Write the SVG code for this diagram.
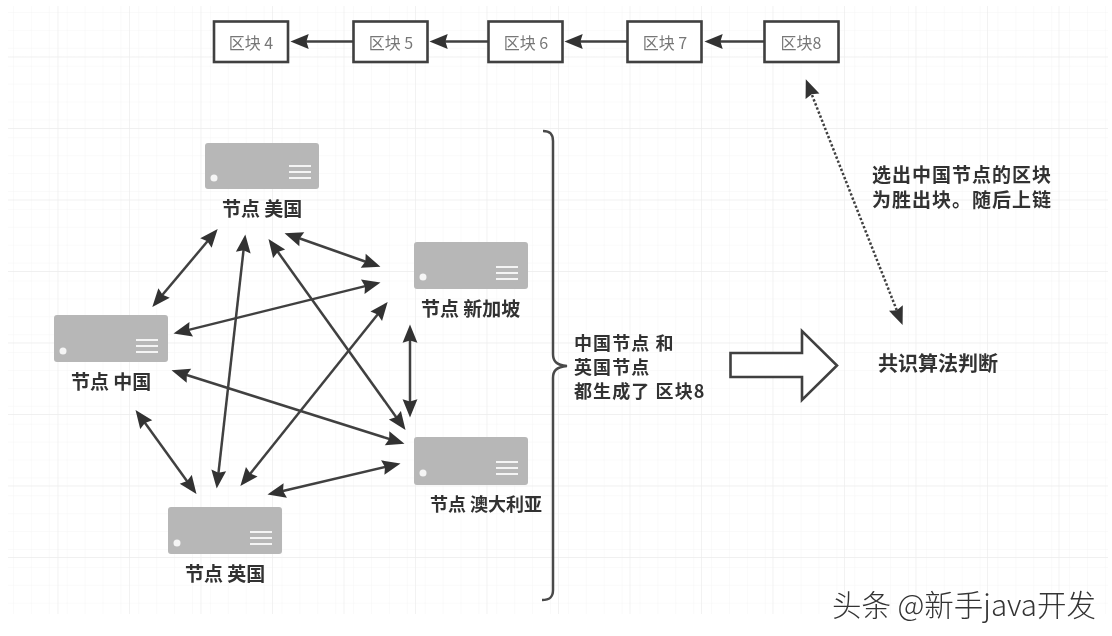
<svg xmlns="http://www.w3.org/2000/svg" width="1112" height="636" viewBox="0 0 1112 636">
<style>
text{font-family:"Noto Sans CJK SC","Noto Sans",sans-serif;dominant-baseline:central}
.blk{fill:#fff;stroke:#3f3f3f;stroke-width:2.6}
.blkt{font-size:16px;fill:#777;text-anchor:middle}
.lab{font-size:19px;font-weight:700;fill:#333}
.sum{font-size:18px;font-weight:700;fill:#333;letter-spacing:1.1px}
.res{font-size:19px;font-weight:700;fill:#333;letter-spacing:1px}
.srv{fill:#b7b7b7}
.lit{stroke:#f4f4f4;stroke-width:2}
.led{fill:#f5f5f5}
.con{stroke:#414141;stroke-width:2.5;fill:none}
.two{marker-start:url(#head);marker-end:url(#head)}
</style>
<defs>
<pattern id="minor" width="17.9" height="17.9" patternUnits="userSpaceOnUse" x="13" y="12"><path d="M0 0V17.9M0 0H17.9" fill="none" stroke="#f5f5f5" stroke-width="1"/></pattern>
<pattern id="major" width="71.5" height="71.5" patternUnits="userSpaceOnUse" x="57.5" y="56.5"><path d="M0 0V71.5M0 0H71.5" fill="none" stroke="#ececec" stroke-width="1.3"/></pattern>
<marker id="head" markerUnits="userSpaceOnUse" markerWidth="19" markerHeight="16" viewBox="0 0 16 14" refX="5" refY="7" orient="auto-start-reverse"><path d="M0 .5L16 7L0 13.5L2 7Z" fill="#333"/></marker>
<filter id="soft" x="-2%" y="-2%" width="104%" height="104%"><feGaussianBlur stdDeviation="0.65"/></filter>
</defs>
<rect width="1112" height="636" fill="#fff"/>
<rect x="8" y="6" width="1100" height="608" fill="url(#minor)"/>
<rect x="8" y="6" width="1100" height="608" fill="url(#major)"/>
<g filter="url(#soft)">
<g id="connectors">
<path class="con" d="M353 41.5H303" marker-end="url(#head)"/>
<path class="con" d="M488 41.5H442" marker-end="url(#head)"/>
<path class="con" d="M627 41.5H577" marker-end="url(#head)"/>
<path class="con" d="M764 41.5H717" marker-end="url(#head)"/>
<path class="con two" d="M209.6 238.7L160.4 297.3"/>
<path class="con two" d="M243.9 246.9L218.1 476.1"/>
<path class="con two" d="M275.8 249.1L398.2 419.9"/>
<path class="con two" d="M296.4 237.3L368.6 262.7"/>
<path class="con two" d="M368.3 285.4L185.7 330.6"/>
<path class="con two" d="M379.8 311.8L248.2 476.2"/>
<path class="con two" d="M410 337V405"/>
<path class="con two" d="M183.5 374L392.5 440"/>
<path class="con two" d="M142.9 420.1L189.1 483.9"/>
<path class="con two" d="M279.7 491.7L388.3 466.3"/>
<path class="con two" d="M810.4 91L898 313.4" stroke-dasharray="2.4 2"/>
</g>
<g id="block4"><rect class="blk" x="214" y="21.5" width="74" height="40.5"/><text class="blkt" x="251" y="42">区块 4</text></g>
<g id="block5"><rect class="blk" x="353.5" y="21.5" width="74" height="40.5"/><text class="blkt" x="391" y="42">区块 5</text></g>
<g id="block6"><rect class="blk" x="488.5" y="21.5" width="74" height="40.5"/><text class="blkt" x="526" y="42">区块 6</text></g>
<g id="block7"><rect class="blk" x="627.5" y="21.5" width="74" height="40.5"/><text class="blkt" x="665" y="42">区块 7</text></g>
<g id="block8"><rect class="blk" x="764.5" y="21.5" width="74" height="40.5"/><text class="blkt" x="801" y="42">区块8</text></g>
<g id="node-us" transform="translate(205 143)"><rect class="srv" width="114" height="46" rx="3"/><circle class="led" cx="9" cy="35" r="3.5"/><path class="lit" d="M84 23H106M84 29H106M84 35H106"/><text class="lab" x="17" y="64">节点 美国</text></g>
<g id="node-sg" transform="translate(414 242)"><rect class="srv" width="114" height="47" rx="3"/><circle class="led" cx="9" cy="35" r="3.5"/><path class="lit" d="M82 25H104M82 31H104M82 37H104"/><text class="lab" x="7" y="65">节点 新加坡</text></g>
<g id="node-cn" transform="translate(54 315)"><rect class="srv" width="114" height="47" rx="3"/><circle class="led" cx="9" cy="36" r="3.5"/><path class="lit" d="M82 25H104M82 31H104M82 37H104"/><text class="lab" x="17" y="65">节点 中国</text></g>
<g id="node-uk" transform="translate(168 507)"><rect class="srv" width="114" height="47" rx="3"/><circle class="led" cx="9" cy="36" r="3.5"/><path class="lit" d="M82 25H104M82 31H104M82 37H104"/><text class="lab" x="17" y="65">节点 英国</text></g>
<g id="node-au" transform="translate(414 437)"><rect class="srv" width="114" height="48" rx="3"/><circle class="led" cx="9" cy="36" r="3.5"/><path class="lit" d="M82 25H104M82 31H104M82 37H104"/><text class="lab" x="16" y="66" style="font-size:18px">节点 澳大利亚</text></g>
<g id="brace"><path d="M543 131C550 131 553 134 553 141V354C553 361 556 365 567 366C556 367 553 371 553 378V590C553 597 550 600 542 600" fill="none" stroke="#4a4a4a" stroke-width="2.5"/></g>
<g id="summary"><text class="sum" x="574" y="342">中国节点 和</text><text class="sum" x="574" y="366">英国节点</text><text class="sum" x="574" y="390">都生成了 区块8</text></g>
<g id="big-arrow"><path d="M730.5 353H802V331L837 365.5L802 400V377H730.5Z" fill="#fff" stroke="#3f3f3f" stroke-width="2.6"/></g>
<g id="consensus"><text class="lab" x="878" y="362" style="font-size:20px">共识算法判断</text></g>
<g id="result"><text class="res" x="872" y="173" >选出中国节点的区块</text><text class="res" x="872" y="198.5">为胜出块。随后上链</text></g>
</g>
<g id="watermark"><text x="832" y="603" font-size="29.5" font-weight="300" fill="#333">头条 @新手java开发</text></g>
</svg>
